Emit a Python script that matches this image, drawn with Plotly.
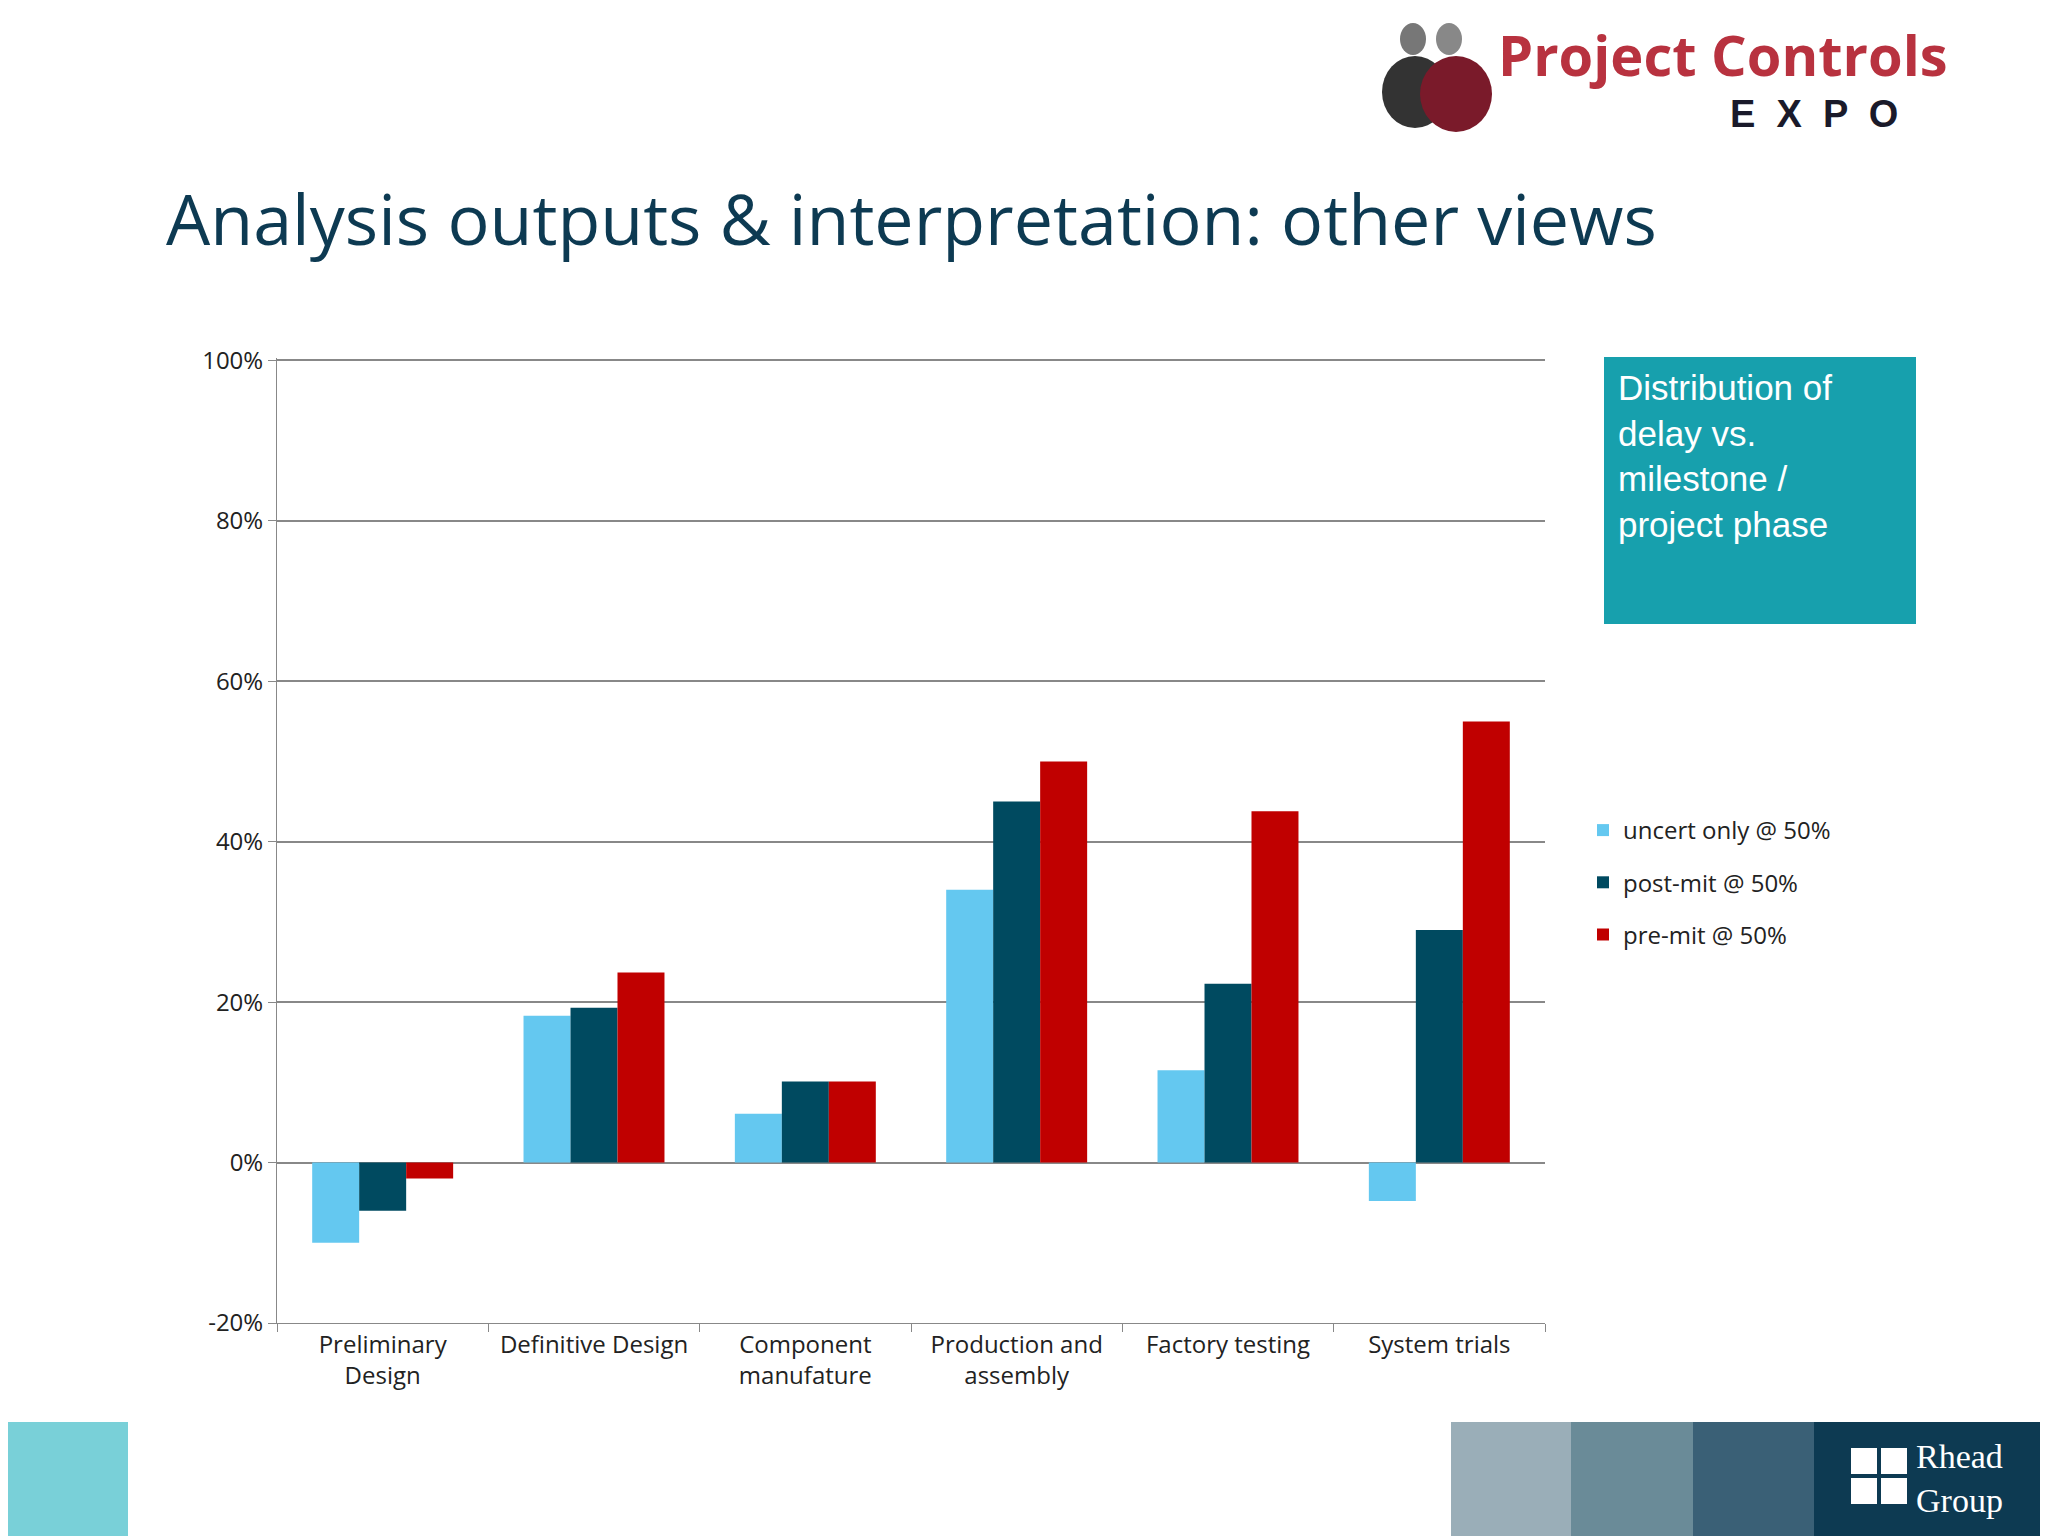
import plotly.graph_objects as go

categories = ["Preliminary<br>Design", "Definitive Design", "Component<br>manufature",
              "Production and<br>assembly", "Factory testing", "System trials"]
uncert = [-10, 18.3, 6.1, 34, 11.5, -4.8]
postmit = [-6, 19.3, 10.1, 45, 22.3, 29]
premit = [-2, 23.7, 10.1, 50, 43.8, 55]
tickvals = [-20, 0, 20, 40, 60, 80, 100]
ticktext = ["-20%", "0%", "20%", "40%", "60%", "80%", "100%"]

fig = go.Figure()
for i, (name, vals, col) in enumerate([("uncert only @ 50%", uncert, "#64c8f0"),
                        ("post-mit @ 50%", postmit, "#004a60"),
                        ("pre-mit @ 50%", premit, "#c00000")]):
    fig.add_bar(x=categories, y=vals, name=name, marker_color=col, marker_line_width=0,
                legendgroup=str(i))

W, H = 2048, 1536
x0, x1, y0, y1 = 269, 1537, 350, 1315
fig.update_layout(
    width=W, height=H, paper_bgcolor="white", plot_bgcolor="white",
    barmode="group", bargap=0.333, bargroupgap=0,
    margin=dict(l=x0, r=W - x1, t=y0, b=H - y1, autoexpand=False),
    font=dict(family="Open Sans", size=24, color="#222"),
    xaxis=dict(showline=True, linecolor="#888", ticks="outside", tickcolor="#888",
               ticklen=8, tickfont=dict(size=24), showgrid=False, tickson="boundaries"),
    yaxis=dict(range=[-20, 100.3], tickvals=tickvals, ticktext=ticktext, showgrid=True,
               gridcolor="#888", gridwidth=1.5, showline=True, linecolor="#888",
               ticks="outside", tickcolor="#888", ticklen=8, zeroline=True,
               zerolinecolor="#888", zerolinewidth=1.5, tickfont=dict(size=24)),
    legend=dict(x=(1575 - x0) / (x1 - x0), y=(y1 - 800) / (y1 - y0), xanchor="left",
                yanchor="top", font=dict(size=24), tracegroupgap=18, itemwidth=30),
    showlegend=True,
)

def px_rect(a, b, c, d, col, layer="above"):
    return dict(type="rect", xref="paper", yref="paper",
                x0=(a - x0) / (x1 - x0), x1=(b - x0) / (x1 - x0),
                y0=(y1 - d) / (y1 - y0), y1=(y1 - c) / (y1 - y0), fillcolor=col, line_width=0, layer=layer)
def px_circ(a, b, c, d, col):
    s = px_rect(a, b, c, d, col)
    s["type"] = "circle"
    return s
shapes = [px_rect(1596, 1908, 349, 616, "#17a0ad"),
          px_rect(0, 120, 1414, 1536, "#79d0d8"),
          px_rect(1443, 1563, 1414, 1536, "#9aaeb8"),
          px_rect(1563, 1685, 1414, 1536, "#6a8b98"),
          px_rect(1685, 1806, 1414, 1536, "#3a6076"),
          px_rect(1806, 2048, 1414, 1536, "#0d3a52"),
          px_circ(1392, 1418, 15, 47, "#777"),
          px_circ(1428, 1454, 15, 47, "#888"),
          px_circ(1374, 1440, 48, 120, "#333"),
          px_circ(1412, 1484, 48, 124, "#7a1a2a"),
          px_rect(1843, 1869, 1440, 1466, "white"),
          px_rect(1873, 1899, 1440, 1466, "white"),
          px_rect(1843, 1869, 1470, 1496, "white"),
          px_rect(1873, 1899, 1470, 1496, "white")]
fig.update_layout(shapes=shapes)

def ann(text, x, y, size, color, anchor="left", yanchor="top", family="Open Sans"):
    fig.add_annotation(text=text, xref="paper", yref="paper", x=(x - x0) / (x1 - x0),
                       y=(y1 - y) / (y1 - y0), xanchor=anchor, yanchor=yanchor, showarrow=False,
                       align="left", font=dict(size=size, color=color, family=family))

ann("Analysis outputs &amp; interpretation: other views", 156, 210, 70, "#0d3a52", yanchor="middle")
ann("Distribution of<br>delay vs.<br>milestone /<br>project phase", 1608, 358, 35, "white",
    family="Liberation Sans")
ann("<b>Project Controls</b>", 1488, 46, 56, "#b8323f", yanchor="middle")
ann("<b>E  X  P  O</b>", 1720, 106, 38, "#1a1a2a", yanchor="middle", family="Liberation Sans")
ann("Rhead<br>Group", 1906, 1470, 34, "white", yanchor="middle", family="Liberation Serif")
fig.write_html("out.html")
